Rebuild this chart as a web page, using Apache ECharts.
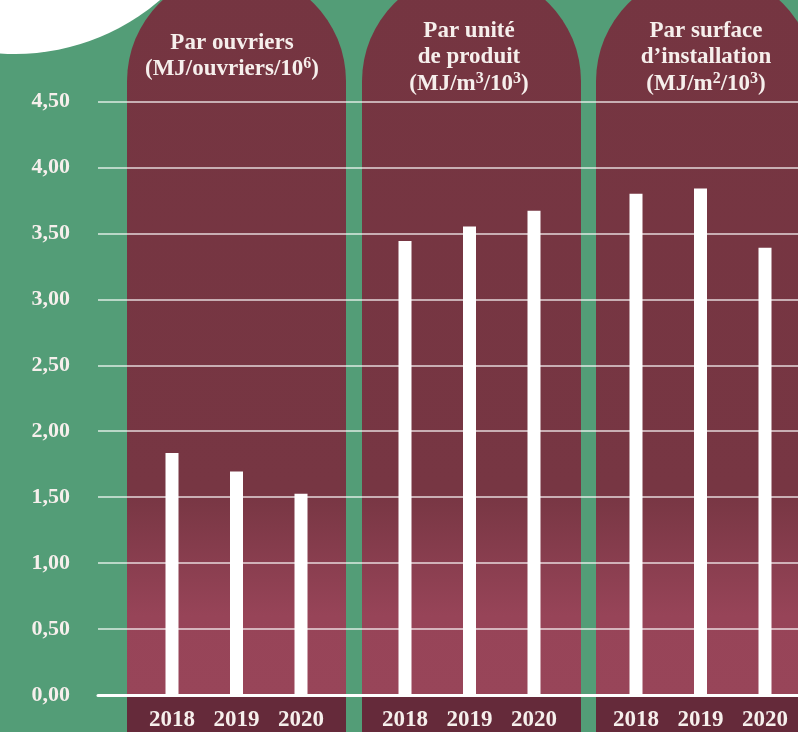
<!DOCTYPE html>
<html>
<head>
<meta charset="utf-8">
<style>
  html, body { margin: 0; padding: 0; background: #539d77; }
  #chart { width: 798px; height: 732px; }
</style>
<script src="https://cdn.jsdelivr.net/npm/echarts@6/dist/echarts.min.js"></script>
</head>
<body>
<div id="chart"></div>
<script>
// data
var years = ['2018', '2019', '2020'];
var parOuvriers = [1.83, 1.69, 1.52];
var parUnite = [3.44, 3.55, 3.67];
var parSurface = [3.80, 3.84, 3.39];
var yMin = 0, yMax = 4.5, yStep = 0.5;

var serif = 'Liberation Serif';
var txtColor = '#f6efec';
var green = '#539d77';

// panel layout (x of each arched column)
var panelX = [127, 362, 596];
var panelW = 219;
var plotTop = 101.5, plotBottom = 37;  // zero line at y=695

function panelFill() {
    return new echarts.graphic.LinearGradient(0, 0, 0, 1, [
        { offset: 0, color: '#753541' },
        { offset: 0.72, color: '#773643' },
        { offset: 0.89, color: '#974458' },
        { offset: 1, color: '#984559' }
    ]);
}

var rich = {
    t: { fontFamily: serif, fontWeight: 'bold', fontSize: 23, lineHeight: 26.5, color: txtColor },
    s: { fontFamily: serif, fontWeight: 'bold', fontSize: 16, lineHeight: 22, verticalAlign: 'top', color: txtColor }
};

function titleText(x, y, str) {
    return {
        type: 'text', z: 20,
        style: {
            x: x, y: y, text: str, rich: rich,
            textAlign: 'center', textVerticalAlign: 'top',
            fontFamily: serif, fontWeight: 'bold', fontSize: 23, lineHeight: 26.5, fill: txtColor
        }
    };
}

var graphics = [
    { type: 'circle', z: -10, shape: { cx: 15, cy: -168, r: 222 }, style: { fill: '#ffffff' } }
];
panelX.forEach(function (x) {
    graphics.push({
        type: 'rect', z: -10,
        shape: { x: x, y: -28.5, width: panelW, height: 723.5, r: [109.5, 109.5, 0, 0] },
        style: { fill: panelFill() }
    });
    graphics.push({
        type: 'rect', z: -10,
        shape: { x: x, y: 696, width: panelW, height: 60, r: [0, 0, 20, 20] },
        style: { fill: '#652a3a' }
    });
});
graphics.push(titleText(232, 29.5, '{t|Par ouvriers}\n{t|(MJ/ouvriers/10}{s|6}{t|)}'));
graphics.push(titleText(469, 17.5, '{t|Par unité}\n{t|de produit}\n{t|(MJ/m}{s|3}{t|/10}{s|3}{t|)}'));
graphics.push(titleText(706, 17.5, '{t|Par surface}\n{t|d\u2019installation}\n{t|(MJ/m}{s|2}{t|/10}{s|3}{t|)}'));

var groups = [parOuvriers, parUnite, parSurface];
var barLeft = [139.75, 372.75, 603.75];
var barW = 193.5;

var grids = [{ left: 98, right: 0, top: plotTop, bottom: plotBottom }];
var xAxes = [{
    gridIndex: 0, type: 'value', min: 0, max: 1,
    axisLine: { show: true, lineStyle: { color: '#ffffff', width: 3 } },
    axisTick: { show: false }, axisLabel: { show: false }, splitLine: { show: false }
}];
var yAxes = [{
    gridIndex: 0, type: 'value', min: yMin, max: yMax, interval: yStep,
    axisLine: { show: false }, axisTick: { show: false },
    axisLabel: {
        margin: 28, color: txtColor, fontFamily: serif, fontWeight: 'bold', fontSize: 22,
        formatter: function (v) { return v.toFixed(2).replace('.', ','); }
    },
    splitLine: { lineStyle: { color: 'rgba(255,255,255,0.8)', width: 1.5 } }
}];
var series = [];

groups.forEach(function (vals, i) {
    var gi = i + 1;
    grids.push({ left: barLeft[i], width: barW, top: plotTop, bottom: plotBottom });
    xAxes.push({
        gridIndex: gi, type: 'category', data: years,
        axisLine: { show: false }, axisTick: { show: false },
        axisLabel: { margin: 15, color: txtColor, fontFamily: serif, fontWeight: 'bold', fontSize: 23 }
    });
    yAxes.push({ gridIndex: gi, type: 'value', min: yMin, max: yMax, interval: yStep, show: false, splitLine: { show: false } });
    series.push({
        type: 'bar', xAxisIndex: gi, yAxisIndex: gi, data: vals,
        barWidth: 13, itemStyle: { color: '#ffffff' }, z: 5
    });
});

var chart = echarts.init(document.getElementById('chart'));
chart.setOption({
    backgroundColor: green,
    animation: false,
    graphic: { elements: graphics },
    grid: grids,
    xAxis: xAxes,
    yAxis: yAxes,
    series: series
});
window.addEventListener('resize', function () { chart.resize(); });
</script>
</body>
</html>
